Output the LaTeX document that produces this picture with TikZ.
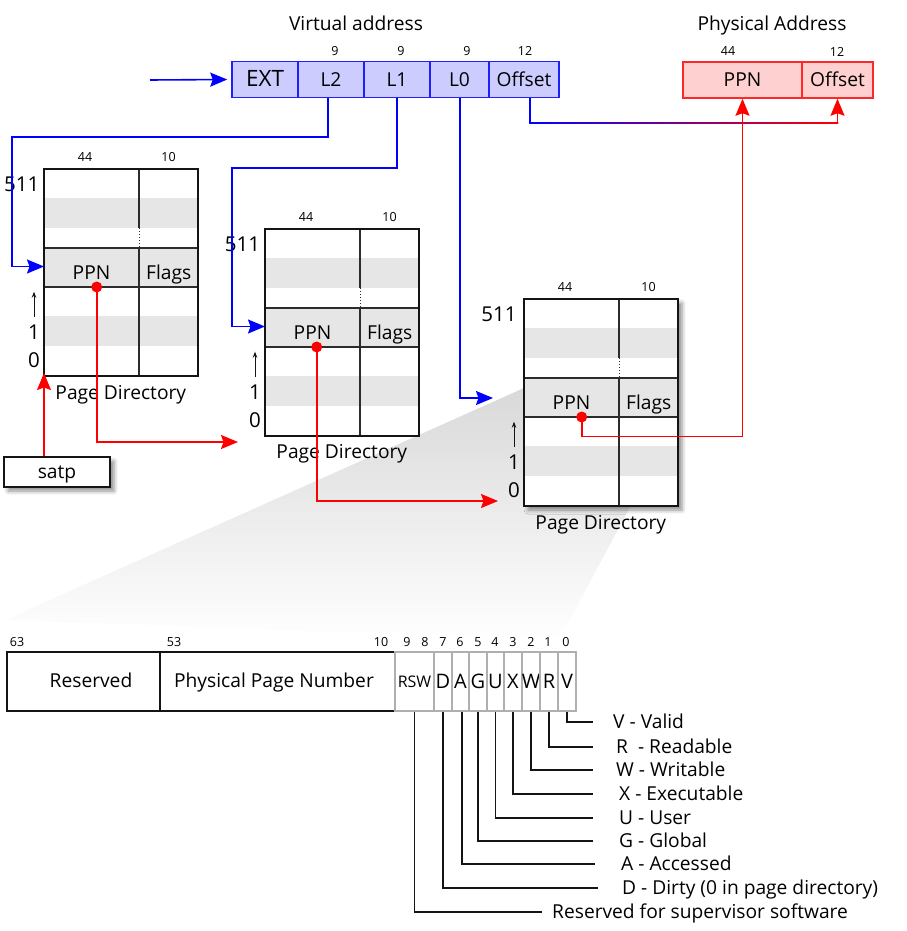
\documentclass[tikz,border=0pt]{standalone}
\usepackage{fontspec}
\setmainfont{Open Sans}
\usetikzlibrary{arrows.meta,shadows.blur,calc}
\definecolor{vfill}{RGB}{204,204,255}
\definecolor{vline}{RGB}{30,30,255}
\definecolor{pfill}{RGB}{255,208,208}
\definecolor{pline}{RGB}{255,40,40}
\definecolor{rowgray}{RGB}{230,230,230}
\definecolor{bitgray}{RGB}{175,175,175}
\definecolor{ink}{RGB}{20,20,20}
\tikzset{
  fmain/.style={font=\fontsize{19.2}{21}\selectfont},
  fsmall/.style={font=\fontsize{12.5}{14}\selectfont},
  fbig/.style={font=\fontsize{20.5}{22}\selectfont},
  capmid/.style={text height=13.7pt,text depth=0pt,inner sep=0pt},
  tline/.style={draw=ink!90,line width=1.3pt},
  tbox/.style={draw=ink,line width=2.2pt},
  headstyle/.style={-{Stealth[length=17pt,width=14pt,inset=2.5pt]}},
  barrow/.style={draw=blue,line width=1.6pt,headstyle},
  rarrow/.style={draw=red,line width=1.6pt,headstyle},
  vcell/.style={draw=vline,fill=vfill,line width=1.5pt,minimum height=36pt,inner sep=0pt,fmain,text height=13.7pt,text depth=0pt},
  pcell/.style={draw=pline,fill=pfill,line width=1.5pt,minimum height=36pt,inner sep=0pt,fmain,text height=13.7pt,text depth=0pt},
  bigcell/.style={draw=ink,line width=1.3pt,minimum height=59pt,inner sep=0pt},
  bitcell/.style={draw=bitgray,line width=1.5pt,minimum height=59pt,inner sep=0pt,font=\fontsize{20}{22}\selectfont,text height=14.3pt,text depth=0pt},
  leader/.style={draw=ink,line width=1.2pt},
  flabel/.style={fmain,anchor=west,capmid},
}
% name, x, y, dot x, 511 x, label baseline, extra fill options
\newcommand\pagedir[7]{%
\begin{scope}[shift={(#2,#3)}]
 \fill[white,#7] (0,0) rectangle (154,207);
 \fill[rowgray] (0,29) rectangle (154,59);
 \fill[rowgray] (0,79) rectangle (154,118);
 \fill[rowgray] (0,147) rectangle (154,177);
 \draw[tline] (0,79) -- (154,79) (0,118) -- (154,118);
 \draw[tline] (95,0) -- (95,59) (95,79) -- (95,207);
 \draw[tline,line width=1pt,dotted] (95,59) -- (95,79);
 \draw[tbox] (0,0) rectangle (154,207);
 \node[fmain,anchor=base] (#1ppn) at (47.5,110.5) {PPN};
 \node[fmain,anchor=base] (#1flags) at (124.7,110.5) {Flags};
 \node[fsmall,anchor=base] (#1n44) at (41,-7.5) {44};
 \node[fsmall,anchor=base] (#1n10) at (124.5,-7.5) {10};
 \node[fbig,anchor=base] (#1top) at (#5,22.7) {511};
 \node[fbig,anchor=base] (#1one) at (-10,170) {1};
 \node[fbig,anchor=base] (#1zero) at (-10,198.3) {0};
 \coordinate (#1upa) at (-10,147.7);
 \coordinate (#1upb) at (-10,122.7);
 \draw[ink,line width=0.9pt,-{Stealth[length=6pt,width=4.5pt]}] (#1upa) -- (#1upb);
 \node[fmain,anchor=base] (#1label) at (76.8,#6) {Page Directory};
 \coordinate (#1dot) at (#4,118);
 \coordinate (#1west) at (0,97.5);
 \coordinate (#1sw) at (0,207);
\end{scope}}

\begin{document}
\begin{tikzpicture}[x=1pt,y=-1pt]
\useasboundingbox (0,0) rectangle (906,931);

% zoom funnel
\shade[top color=black!15,middle color=black!5,bottom color=white] (524,388) -- (678,417) -- (559,640) -- (5,620) -- cycle;

% page directories
\pagedir{da}{44}{169}{52.7}{-22.3}{230}{}
\pagedir{db}{265}{229}{51.7}{-22.5}{229.5}{}
\pagedir{dc}{524}{299}{57.7}{-25}{230}{blur shadow={shadow xshift=4pt,shadow yshift=-4pt,shadow blur radius=4pt,shadow opacity=45}}

% virtual address
\node[fmain,anchor=base] (vtitle) at (356,31) {Virtual address};
\node[vcell,minimum width=66pt] (ext) at (265,79.5) {\fontsize{22.5}{24}\selectfont EXT};
\node[vcell,minimum width=66pt] (l2) at (331,79.5) {L2};
\node[vcell,minimum width=66pt] (l1) at (397,79.5) {L1};
\node[vcell,minimum width=59pt] (l0) at (459.5,79.5) {L0};
\node[vcell,minimum width=70pt] (voff) at (524,79.5) {Offset};
\node[fsmall,anchor=base] (n9a) at (335,56) {9};
\node[fsmall,anchor=base] (n9b) at (401,56) {9};
\node[fsmall,anchor=base] (n9c) at (467,56) {9};
\node[fsmall,anchor=base] (n12a) at (525,56) {12};

% physical address
\node[fmain,anchor=base] (ptitle) at (772,31) {Physical Address};
\node[pcell,minimum width=119pt] (pppn) at (742.5,80) {PPN};
\node[pcell,minimum width=71pt] (poff) at (837.5,80) {Offset};
\node[fsmall,anchor=base] (n44) at (728,56) {44};
\node[fsmall,anchor=base] (n12b) at (837,57) {12};

% satp
\node[draw=ink,line width=2pt,fill=white,minimum width=106pt,minimum height=30pt,inner sep=0pt,
      fmain,text height=16pt,text depth=4pt,
      blur shadow={shadow xshift=4pt,shadow yshift=-4pt,shadow blur radius=4pt,shadow opacity=45}] (satp) at (57,472) {satp};

% blue connectors
\coordinate (vin) at (150,80);
\draw[barrow] (vin) -- ([xshift=-4pt]ext.west);
\draw[barrow] ([xshift=-3pt]l2.south) -- ++(0,39) -| ($(dawest)+(-32,0)$) -- (dawest);
\draw[barrow] (l1.south) -- ++(0,70) -| ($(dbwest)+(-33,0)$) -- (dbwest);
\coordinate (dcin) at (493,398);
\draw[barrow] ([xshift=0.3pt]l0.south) |- (dcin);

% offset connector, blue to red
\coordinate (oa) at ([xshift=6pt]voff.south);
\coordinate (ob) at ($(oa)+(0,25)$);
\coordinate (oc) at (poff.south |- ob);
\draw[blue,line width=1.6pt] (oa) -- ([yshift=0.7pt]ob);
\shade[left color=blue,right color=red] ($(ob)+(-0.8,-0.7)$) rectangle ($(oc)+(0.8,0.7)$);
\draw[rarrow] ([yshift=0.7pt]oc) -- (poff.south);

% red connectors
\draw[rarrow] (satp.north -| dasw) -- ([yshift=3pt]dasw);
\coordinate (datip) at (238,442);
\draw[rarrow] (dadot) |- (datip);
\coordinate (dbtip) at (498,501);
\draw[rarrow] (dbdot) |- (dbtip);
\draw[rarrow] (dcdot) -- ++(0,19.5) -| (pppn.south);
\fill[red] (dadot) circle (5.5pt) (dbdot) circle (5.5pt) (dcdot) circle (5.5pt);

% page table entry format
\node[bigcell,minimum width=153pt] (bres) at (83.5,681.5) {};
\node[bigcell,minimum width=235pt] (bppn) at (277.5,681.5) {};
\node[fmain,capmid] (tres) at (91,681) {Reserved};
\node[fmain,capmid] (tppn) at (274,681) {Physical Page Number};
\node[bitcell,minimum width=39pt,font=\fontsize{16}{17}\selectfont,text height=11.4pt] (brsw) at (414.5,681.5) {RSW};
\node[bitcell,minimum width=18pt] (bd) at (443,681.5) {D};
\node[bitcell,minimum width=17pt] (ba) at (460.5,681.5) {A};
\node[bitcell,minimum width=18pt] (bg) at (478,681.5) {G};
\node[bitcell,minimum width=17pt] (bu) at (495.5,681.5) {U};
\node[bitcell,minimum width=18pt] (bx) at (513,681.5) {X};
\node[bitcell,minimum width=18pt] (bw) at (531,681.5) {W};
\node[bitcell,minimum width=18pt] (br) at (549,681.5) {R};
\node[bitcell,minimum width=18pt] (bv) at (567,681.5) {V};

\node[fsmall,anchor=base] (b63) at (17,646) {63};
\node[fsmall,anchor=base] (b53) at (174,646) {53};
\node[fsmall,anchor=base] (b10) at (381,646) {10};
\node[fsmall,anchor=base] (b9) at (407,646) {9};
\node[fsmall,anchor=base] (b8) at (425,646) {8};
\node[fsmall,anchor=base] (b7) at (443,646) {7};
\node[fsmall,anchor=base] (b6) at (460,646) {6};
\node[fsmall,anchor=base] (b5) at (478,646) {5};
\node[fsmall,anchor=base] (b4) at (495,646) {4};
\node[fsmall,anchor=base] (b3) at (513,646) {3};
\node[fsmall,anchor=base] (b2) at (531,646) {2};
\node[fsmall,anchor=base] (b1) at (548,646) {1};
\node[fsmall,anchor=base] (b0) at (566,646) {0};

% flag legend
\node[flabel] (lv) at (613,722) {V - Valid};
\node[flabel] (lr) at (616,747) {R\ \ - Readable};
\node[flabel] (lw) at (616,770) {W - Writable};
\node[flabel] (lx) at (619,794) {X - Executable};
\node[flabel] (lu) at (619,818) {U - User};
\node[flabel] (lg) at (619,841) {G - Global};
\node[flabel] (la) at (621,864) {A - Accessed};
\node[flabel] (ld) at (622,888) {D - Dirty (0 in page directory)};
\node[flabel] (lrsw) at (552,912) {Reserved for supervisor software};

\draw[leader] (bv.south) |- ([xshift=-20pt]lv.west);
\draw[leader] (br.south) |- ([xshift=-23pt]lr.west);
\draw[leader] (bw.south) |- ([xshift=-23pt]lw.west);
\draw[leader] (bx.south) |- ([xshift=-26pt]lx.west);
\draw[leader] (bu.south) |- ([xshift=-26pt]lu.west);
\draw[leader] (bg.south) |- ([xshift=-26pt]lg.west);
\draw[leader] ([xshift=1.5pt]ba.south) |- ([xshift=-26pt]la.west);
\draw[leader] (bd.south) |- ([xshift=-24pt]ld.west);
\draw[leader] (brsw.south) |- ([xshift=-10pt]lrsw.west);
\end{tikzpicture}
\end{document}
